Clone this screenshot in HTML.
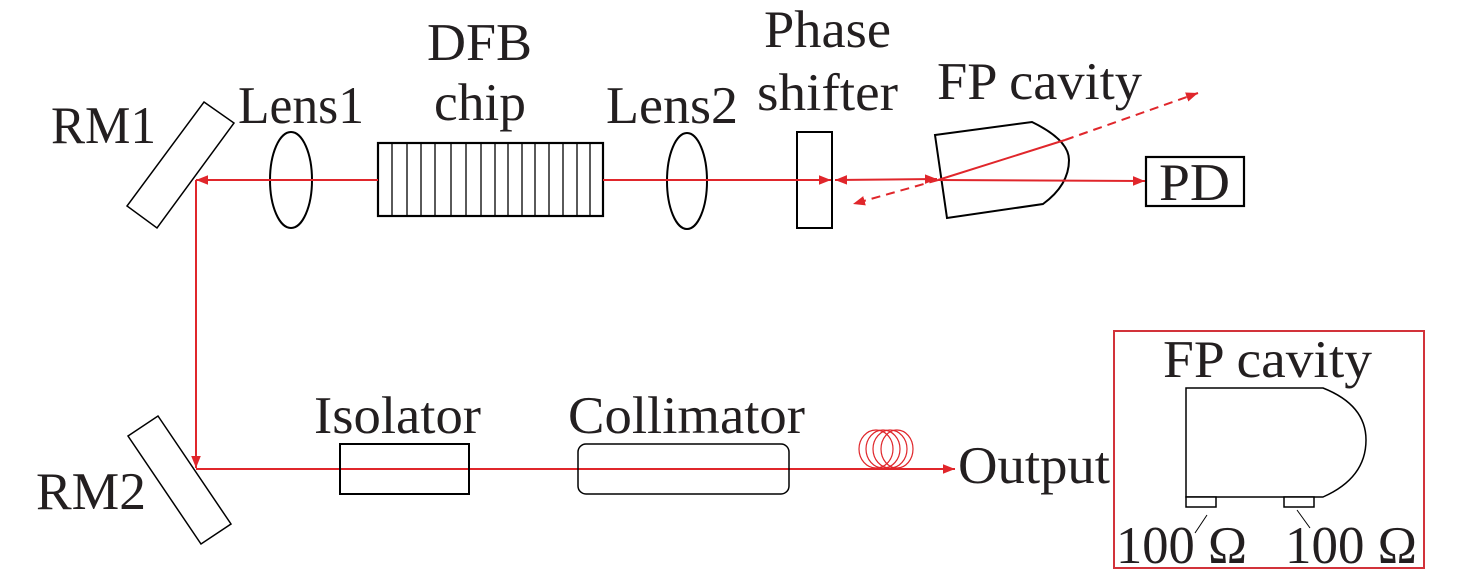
<!DOCTYPE html>
<html><head><meta charset="utf-8"><style>
html,body{margin:0;padding:0;background:#fff;}
svg{display:block;}
svg text{font-family:"Liberation Serif","Times New Roman","DejaVu Serif",serif !important;fill:#231f20;font-size:53px;}
</style></head><body>
<svg width="1476" height="582" viewBox="0 0 1476 582" xmlns="http://www.w3.org/2000/svg" font-family="Liberation Serif, Times New Roman, DejaVu Serif, serif">
<defs>
<marker id="ar" viewBox="0 0 10 10" refX="10" refY="5" markerWidth="12" markerHeight="12" markerUnits="userSpaceOnUse" orient="auto-start-reverse">
<path d="M0,1 L10,5 L0,9 z" fill="#e0262b"/></marker>
</defs>
<g font-family="Liberation Serif, serif">
<text x="51" y="143" textLength="105" lengthAdjust="spacingAndGlyphs">RM1</text>
<text x="238" y="123" textLength="126" lengthAdjust="spacingAndGlyphs">Lens1</text>
<text x="427" y="60" textLength="105" lengthAdjust="spacingAndGlyphs">DFB</text>
<text x="434" y="120" textLength="92" lengthAdjust="spacingAndGlyphs">chip</text>
<text x="606" y="123" textLength="132" lengthAdjust="spacingAndGlyphs">Lens2</text>
<text x="764" y="47" textLength="127" lengthAdjust="spacingAndGlyphs">Phase</text>
<text x="757" y="110" textLength="141" lengthAdjust="spacingAndGlyphs">shifter</text>
<text x="937" y="99" textLength="205" lengthAdjust="spacingAndGlyphs">FP cavity</text>
<text x="1159" y="200" textLength="71" lengthAdjust="spacingAndGlyphs">PD</text>
<text x="314" y="433" textLength="167" lengthAdjust="spacingAndGlyphs">Isolator</text>
<text x="568" y="433" textLength="237" lengthAdjust="spacingAndGlyphs">Collimator</text>
<text x="958" y="483" textLength="152" lengthAdjust="spacingAndGlyphs">Output</text>
<text x="36" y="509" textLength="110" lengthAdjust="spacingAndGlyphs">RM2</text>
<text x="1163" y="377" textLength="209" lengthAdjust="spacingAndGlyphs">FP cavity</text>
<text x="1116" y="563" textLength="131" lengthAdjust="spacingAndGlyphs">100 Ω</text>
<text x="1285" y="563" textLength="132" lengthAdjust="spacingAndGlyphs">100 Ω</text>
</g>

<polygon points="204,102 234,123 157,228 127,206" fill="#fff" stroke="#000" stroke-width="1.5"/>
<polygon points="128,436 158,416 231,524 201,544" fill="#fff" stroke="#000" stroke-width="1.5"/>

<ellipse cx="291" cy="180" rx="21" ry="48" fill="none" stroke="#000" stroke-width="2"/>
<ellipse cx="687" cy="181" rx="20" ry="48" fill="none" stroke="#000" stroke-width="2"/>

<rect x="378" y="143" width="225" height="73" fill="#fff" stroke="#000" stroke-width="2.2"/>
<g stroke="#000" stroke-width="1.3">
<line x1="392" y1="143" x2="392" y2="216"/><line x1="407" y1="143" x2="407" y2="216"/>
<line x1="421" y1="143" x2="421" y2="216"/><line x1="435" y1="143" x2="435" y2="216"/>
<line x1="451" y1="143" x2="451" y2="216"/><line x1="466" y1="143" x2="466" y2="216"/>
<line x1="481" y1="143" x2="481" y2="216"/><line x1="495" y1="143" x2="495" y2="216"/>
<line x1="508" y1="143" x2="508" y2="216"/><line x1="522" y1="143" x2="522" y2="216"/>
<line x1="535" y1="143" x2="535" y2="216"/><line x1="549" y1="143" x2="549" y2="216"/>
<line x1="563" y1="143" x2="563" y2="216"/><line x1="577" y1="143" x2="577" y2="216"/>
<line x1="590" y1="143" x2="590" y2="216"/>
</g>

<rect x="797" y="132" width="35" height="96" fill="none" stroke="#000" stroke-width="2"/>
<path d="M935,135 L1032,122 Q1069,140 1069,160 Q1069,185 1043,204 L947,218 Z" fill="none" stroke="#000" stroke-width="2"/>
<rect x="1146" y="157" width="98" height="49" fill="none" stroke="#000" stroke-width="2.2"/>

<g stroke="#e0262b" stroke-width="2" fill="none">
<line x1="378" y1="180" x2="196" y2="180" marker-end="url(#ar)"/>
<line x1="603" y1="180" x2="831" y2="180" marker-end="url(#ar)"/>
<line x1="835" y1="180" x2="937" y2="179" marker-start="url(#ar)" marker-end="url(#ar)"/>
<line x1="938" y1="180" x2="1145" y2="181" marker-end="url(#ar)"/>
<line x1="938" y1="180" x2="1065" y2="140"/>
<line x1="1065" y1="140" x2="1198" y2="93" stroke-dasharray="9,6" marker-end="url(#ar)"/>
<line x1="938" y1="180" x2="853" y2="204" stroke-dasharray="9,6" marker-end="url(#ar)"/>
<line x1="196" y1="180" x2="196" y2="468" marker-end="url(#ar)"/>
<line x1="196" y1="469" x2="955" y2="469" marker-end="url(#ar)"/>
</g>

<rect x="340" y="444" width="129" height="50" fill="none" stroke="#000" stroke-width="2"/>
<rect x="578" y="444" width="211" height="50" rx="8" fill="none" stroke="#000" stroke-width="1.5"/>
<g fill="none" stroke="#e0262b" stroke-width="1.2">
<ellipse cx="876" cy="449" rx="17" ry="19"/><ellipse cx="883" cy="449" rx="17" ry="19"/>
<ellipse cx="890" cy="449" rx="17" ry="19"/><ellipse cx="897" cy="449" rx="16" ry="19"/>
</g>

<rect x="1114" y="331" width="310" height="237" fill="none" stroke="#d2323a" stroke-width="2"/>
<path d="M1186,497 L1186,388 L1323,388 Q1366,405 1366,440 Q1366,478 1323,497 Z" fill="none" stroke="#000" stroke-width="1.5"/>
<rect x="1186" y="497" width="30" height="10" fill="#fff" stroke="#000" stroke-width="1.5"/>
<rect x="1284" y="497" width="30" height="10" fill="#fff" stroke="#000" stroke-width="1.5"/>
<line x1="1207" y1="515" x2="1195" y2="533" stroke="#000" stroke-width="1"/>
<line x1="1297" y1="510" x2="1310" y2="528" stroke="#000" stroke-width="1"/>
</svg>
</body></html>
